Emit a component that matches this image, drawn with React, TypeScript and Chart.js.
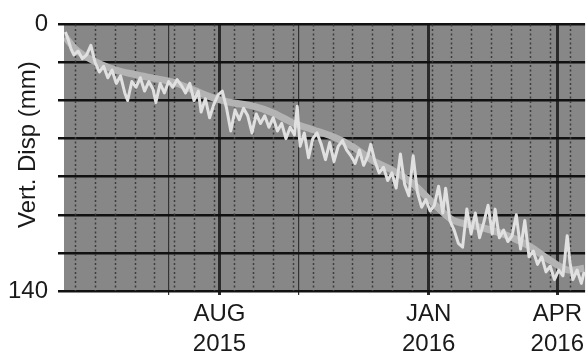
import React, { useEffect, useRef } from 'react';
import { Chart, registerables } from 'chart.js';

Chart.register(...registerables);

// ---- data (x = days from start of record, y = vertical displacement in mm) ----
const trendDays = [-7, 0, 14, 28, 42, 56, 70, 84, 98, 112, 126, 140, 154, 168, 182, 196, 210, 224, 238, 252, 266, 280, 294, 308, 322, 336, 350, 360];
const trendValues = [6.7, 12.9, 19.6, 23.8, 26.3, 28.4, 30.5, 34.6, 38.7, 41.3, 42.9, 46.5, 51.7, 55.3, 58.9, 64.1, 71.3, 76.5, 83.2, 93.0, 102.3, 105.4, 108, 111.6, 116.8, 124, 129.1, 128.1];

const noiseDays = [-7, -5, -3, -1, 2, 5, 8, 11, 14, 17, 20, 23, 26, 29, 32, 35, 37, 40, 43, 46, 49, 52, 55, 57, 60, 63, 66, 69, 72, 75, 78, 81, 84, 87, 89, 92, 95, 98, 101, 104, 107, 110, 113, 116, 119, 122, 125, 128, 131, 134, 137, 140, 143, 146, 149, 152, 155, 157, 159, 162, 165, 168, 171, 174, 177, 180, 183, 186, 189, 192, 195, 198, 201, 204, 207, 209, 212, 215, 218, 221, 224, 227, 230, 233, 236, 239, 242, 245, 248, 251, 254, 257, 260, 262, 265, 268, 271, 274, 277, 280, 283, 286, 289, 292, 295, 297, 300, 303, 306, 309, 312, 315, 318, 321, 324, 327, 330, 333, 336, 339, 342, 345, 348, 350, 352, 355, 358, 360];
const noiseValues = [4, 8, 13, 16, 14, 18, 16, 11, 20, 25, 22, 28, 24, 31, 27, 36, 40, 30, 33, 28, 35, 30, 34, 41, 31, 36, 30, 33, 29, 32, 36, 31, 40, 35, 46, 39, 49, 42, 37, 35, 44, 56, 45, 50, 44, 48, 57, 47, 52, 48, 54, 49, 56, 52, 60, 54, 58, 43, 64, 57, 70, 60, 57, 63, 71, 62, 72, 64, 61, 66, 69, 73, 66, 74, 69, 63, 72, 78, 75, 82, 78, 86, 68, 84, 90, 69, 88, 96, 92, 98, 95, 85, 99, 86, 103, 108, 115, 117, 97, 110, 99, 112, 104, 95, 110, 97, 112, 108, 114, 111, 100, 118, 103, 122, 119, 126, 122, 130, 127, 134, 129, 132, 111, 125, 134, 129, 136, 130];

const yGridValues = [0, 20, 40, 60, 80, 100, 120, 140];
const yLabelValues = [0, 140];
const yTitle = 'Vert. Disp (mm)';

const xMajorDays = [102, 250, 341];
const xMajorLabels = [['AUG', '2015'], ['JAN', '2016'], ['APR', '2016']];
const xQuarterDays = [66, 158];
const xDottedStep = 14;
const xDottedFirst = 0;
const xDottedLast = 350;
const xMin = -8;
const xMax = 360.65;

const FONT = "'Liberation Sans', Arial, Helvetica, sans-serif";

export default function App() {
  const ref = useRef<HTMLCanvasElement | null>(null);

  useEffect(() => {
    document.body.style.margin = '0';
    const canvas = ref.current;
    if (!canvas) return;

    const bgPlugin = {
      id: 'plotBg',
      beforeDraw(chart: any) {
        const { ctx, chartArea } = chart;
        ctx.save();
        ctx.fillStyle = '#878787';
        ctx.fillRect(chartArea.left, chartArea.top, chartArea.right - chartArea.left, chartArea.bottom - chartArea.top);
        ctx.restore();
      },
      beforeDatasetsDraw(chart: any) {
        const { ctx, chartArea, scales } = chart;
        ctx.save();
        ctx.strokeStyle = '#3c3c3c';
        ctx.lineWidth = 1.5;
        ctx.setLineDash([2, 2.5]);
        for (let d = xDottedFirst; d <= xDottedLast; d += xDottedStep) {
          const px = Math.round(scales.x.getPixelForValue(d)) + 0.5;
          ctx.beginPath();
          ctx.moveTo(px, chartArea.top);
          ctx.lineTo(px, chartArea.bottom);
          ctx.stroke();
        }
        ctx.restore();
      },
      afterDraw(chart: any) {
        const { ctx, chartArea } = chart;
        ctx.save();
        ctx.fillStyle = '#1a1a1a';
        ctx.font = `24px ${FONT}`;
        ctx.textAlign = 'center';
        ctx.textBaseline = 'alphabetic';
        ctx.translate(35, (chartArea.top + chartArea.bottom) / 2 - 13);
        ctx.rotate(-Math.PI / 2);
        ctx.fillText(yTitle, 0, 0);
        ctx.restore();
      },
    };

    const allXTicks = [...xQuarterDays, ...xMajorDays].sort((a, b) => a - b);

    const chart = new Chart(canvas, {
      type: 'line',
      data: {
        datasets: [
          {
            label: 'Measured',
            data: noiseDays.map((d, i) => ({ x: d, y: noiseValues[i] })),
            borderColor: '#e0e0e0',
            borderWidth: 3,
            borderJoinStyle: 'round',
            pointRadius: 0,
            tension: 0,
          },
          {
            label: 'Trend',
            data: trendDays.map((d, i) => ({ x: d, y: trendValues[i] })),
            borderColor: '#b3b3b3',
            borderWidth: 7,
            pointRadius: 0,
            cubicInterpolationMode: 'monotone',
          },
        ],
      },
      options: {
        responsive: false,
        animation: false,
        events: [],
        layout: { padding: { top: 20, right: 0, left: 0, bottom: 0 } },
        plugins: { legend: { display: false }, tooltip: { enabled: false } },
        scales: {
          x: {
            type: 'linear',
            min: xMin,
            max: xMax,
            afterBuildTicks: (scale: any) => {
              scale.ticks = allXTicks.map((v) => ({ value: v }));
            },
            afterFit: (scale: any) => {
              scale.height = 65;
            },
            border: { display: false },
            grid: {
              color: (ctx: any) => (ctx.tick && xMajorDays.includes(ctx.tick.value) ? '#2a2a2a' : '#333333'),
              lineWidth: (ctx: any) => (ctx.tick && xMajorDays.includes(ctx.tick.value) ? 3 : 1.2),
              drawTicks: true,
              tickLength: 4,
            },
            ticks: {
              autoSkip: false,
              maxRotation: 0,
              minRotation: 0,
              padding: 4,
              color: '#1a1a1a',
              font: { family: FONT, size: 24, lineHeight: 1.25 },
              callback: (value: any) => {
                const i = xMajorDays.indexOf(Number(value));
                return i >= 0 ? xMajorLabels[i] : '';
              },
            },
          },
          y: {
            type: 'linear',
            reverse: true,
            min: 0,
            max: 140,
            afterBuildTicks: (scale: any) => {
              scale.ticks = yGridValues.map((v) => ({ value: v }));
            },
            afterFit: (scale: any) => {
              scale.width = 64;
            },
            border: { display: false },
            grid: {
              color: '#111111',
              lineWidth: 2.5,
              drawTicks: true,
              tickLength: 6,
            },
            ticks: {
              padding: 10,
              color: '#1a1a1a',
              font: { family: FONT, size: 24 },
              callback: (value: any) => (yLabelValues.includes(Number(value)) ? String(value) : ''),
            },
          },
        },
      },
      plugins: [bgPlugin],
    });

    return () => chart.destroy();
  }, []);

  return <canvas ref={ref} width={588} height={356} style={{ display: 'block' }} />;
}
